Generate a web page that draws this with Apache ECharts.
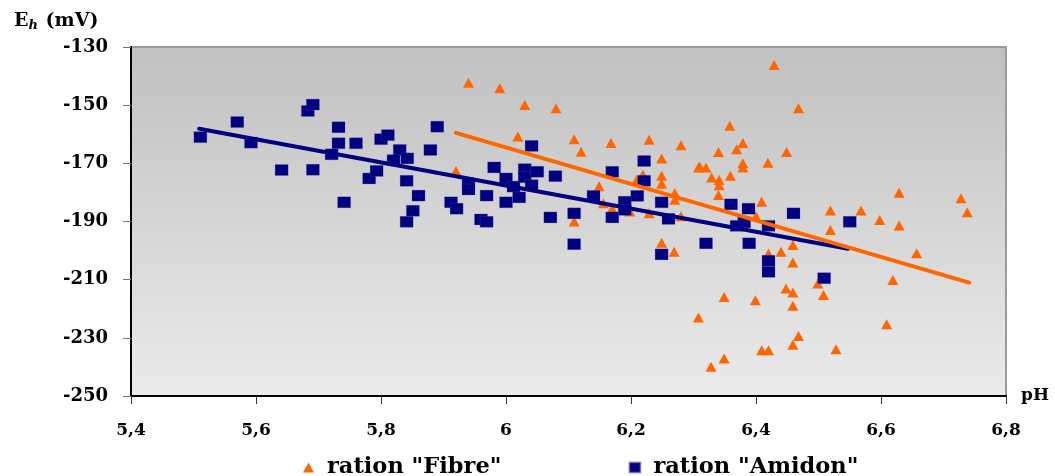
<!DOCTYPE html>
<html>
<head>
<meta charset="utf-8">
<script src="https://cdn.jsdelivr.net/npm/echarts@6/dist/echarts.min.js"></script>
<style>
  html, body { margin: 0; padding: 0; background: #fff; }
  #chart { width: 1055px; height: 476px; }
</style>
</head>
<body>
<div id="chart"></div>
<script>
// pH / Eh readings, ration "Fibre" (triangles)
const fibrePoints = [
  [5.940, -142.3], [5.990, -144.2], [6.030, -149.9], [6.080, -151.1], [6.019, -160.8],
  [6.109, -161.7], [6.120, -166.0], [5.920, -172.6], [6.109, -190.0], [6.168, -163.0],
  [6.229, -161.9], [6.280, -163.8], [6.249, -168.3], [6.310, -171.2], [6.219, -173.9],
  [6.249, -174.3], [6.249, -177.0], [6.209, -175.7], [6.149, -177.9], [6.270, -180.2],
  [6.270, -182.5], [6.156, -183.7], [6.170, -185.5], [6.198, -186.6], [6.229, -187.2],
  [6.280, -188.2], [6.249, -197.3], [6.269, -200.4], [6.429, -136.2], [6.468, -151.1],
  [6.358, -157.1], [6.379, -163.0], [6.340, -166.1], [6.369, -165.2], [6.449, -166.1],
  [6.308, -171.4], [6.320, -171.4], [6.379, -170.0], [6.379, -171.4], [6.419, -169.8],
  [6.329, -174.9], [6.341, -175.7], [6.341, -177.5], [6.359, -174.3], [6.340, -180.9],
  [6.409, -183.2], [6.400, -188.2], [6.519, -186.2], [6.568, -186.2], [6.598, -189.5],
  [6.629, -180.1], [6.629, -191.4], [6.519, -192.9], [6.459, -198.1], [6.440, -200.4],
  [6.420, -201.0], [6.459, -204.1], [6.657, -200.9], [6.728, -182.0], [6.738, -186.8],
  [6.619, -210.1], [6.499, -211.3], [6.448, -213.0], [6.459, -214.4], [6.508, -215.3],
  [6.349, -216.0], [6.399, -217.1], [6.459, -219.0], [6.308, -223.0], [6.609, -225.3],
  [6.468, -229.4], [6.459, -232.4], [6.409, -234.3], [6.420, -234.3], [6.528, -233.9],
  [6.349, -237.1], [6.328, -239.9]
]

// pH / Eh readings, ration "Amidon" (squares)
const amidonPoints = [
  [5.511, -161.0], [5.570, -155.8], [5.592, -162.9], [5.641, -172.3], [5.683, -152.0],
  [5.691, -149.8], [5.691, -172.2], [5.721, -166.9], [5.732, -157.6], [5.732, -163.1],
  [5.741, -183.4], [5.760, -163.1], [5.781, -175.2], [5.793, -172.6], [5.800, -161.7],
  [5.811, -160.3], [5.830, -165.4], [5.820, -168.9], [5.842, -168.3], [5.841, -176.0],
  [5.860, -181.1], [5.851, -186.3], [5.841, -190.1], [5.890, -157.4], [5.879, -165.4],
  [5.912, -183.4], [5.921, -185.6], [5.940, -176.9], [5.940, -179.0], [5.960, -189.3],
  [5.969, -190.1], [5.969, -181.1], [5.981, -171.4], [6.000, -175.2], [6.000, -183.4],
  [6.012, -178.0], [6.021, -181.7], [6.030, -172.0], [6.030, -174.8], [6.041, -164.0],
  [6.050, -172.9], [6.041, -177.5], [6.079, -174.4], [6.071, -188.6], [6.109, -187.2],
  [6.109, -197.8], [6.140, -181.2], [6.170, -172.9], [6.221, -169.2], [6.221, -176.0],
  [6.210, -181.2], [6.190, -183.2], [6.190, -186.0], [6.170, -188.6], [6.249, -183.4],
  [6.260, -189.1], [6.249, -201.3], [6.360, -184.1], [6.388, -185.6], [6.460, -187.2],
  [6.550, -190.1], [6.381, -190.3], [6.369, -191.5], [6.420, -191.5], [6.320, -197.5],
  [6.389, -197.5], [6.420, -203.5], [6.420, -207.3], [6.509, -209.5]
]

// trend lines, end points
const fibreTrend = [[5.920, -159.5], [6.741, -211.0]]
const amidonTrend = [[5.509, -158.1], [6.547, -199.4]]

const seriesNames = ['ration "Fibre"', 'ration "Amidon"']
const xTicks = [5.4, 5.6, 5.8, 6.0, 6.2, 6.4, 6.6, 6.8]
const xTickLabels = ['5,4', '5,6', '5,8', '6', '6,2', '6,4', '6,6', '6,8']
const yTicks = [-250, -230, -210, -190, -170, -150, -130]

const orange = '#ff6600'
const navy = '#000080'
const font = 'DejaVu Serif'

const chart = echarts.init(document.getElementById('chart'))

const option = {
  animation: false,
  title: {
    text: '{a|E}{b|h}{a| (mV)}',
    left: 9,
    top: 6,
    textStyle: {
      rich: {
        a: { fontFamily: font, fontWeight: 'bold', fontSize: 19, color: '#000' },
        b: { fontFamily: font, fontWeight: 'bold', fontStyle: 'italic', fontSize: 13, color: '#000', padding: [8, 1, 0, 0] }
      }
    }
  },
  legend: {
    data: [
      { name: seriesNames[0], icon: 'triangle' },
      { name: seriesNames[1], icon: 'rect' }
    ],
    left: 298,
    top: 451,
    itemWidth: 11,
    itemHeight: 10,
    itemGap: 127,
    textStyle: { fontFamily: font, fontWeight: 'bold', fontSize: 22.5, color: '#000', padding: [0, 0, 0, 8] }
  },
  grid: {
    left: 131,
    right: 49,
    top: 47,
    bottom: 80,
    show: true,
    borderColor: '#9a9a9a',
    borderWidth: 2,
    backgroundColor: new echarts.graphic.LinearGradient(0, 0, 0, 1, [
      { offset: 0, color: '#c0c0c0' },
      { offset: 1, color: '#ebebeb' }
    ])
  },
  xAxis: {
    type: 'value',
    min: 5.4,
    max: 6.8,
    name: 'pH',
    nameLocation: 'end',
    nameGap: 15,
    nameTextStyle: { fontFamily: font, fontWeight: 'bold', fontSize: 17, color: '#000', verticalAlign: 'bottom', padding: [0, 0, -8, 0] },
    axisLine: { onZero: false, lineStyle: { color: '#000', width: 2 } },
    axisTick: { customValues: xTicks, length: 8, lineStyle: { color: '#333', width: 1 } },
    axisLabel: {
      customValues: xTicks,
      margin: 26,
      fontFamily: font,
      fontWeight: 'bold',
      fontSize: 17,
      color: '#000',
      formatter: v => {
        const i = xTicks.findIndex(t => Math.abs(t - v) < 1e-6)
        return i >= 0 ? xTickLabels[i] : ''
      }
    },
    splitLine: { show: false }
  },
  yAxis: {
    type: 'value',
    min: -250,
    max: -130,
    axisLine: { show: true, onZero: false, lineStyle: { color: '#000', width: 2 } },
    axisTick: { show: true, customValues: yTicks, length: 8, lineStyle: { color: '#777', width: 1 } },
    axisLabel: {
      customValues: yTicks,
      margin: 23,
      fontFamily: font,
      fontWeight: 'bold',
      fontSize: 18,
      color: '#000'
    },
    splitLine: { show: false }
  },
  series: [
    {
      name: seriesNames[0],
      type: 'scatter',
      symbol: 'triangle',
      symbolSize: [11, 10],
      itemStyle: { color: orange, opacity: 1 },
      data: fibrePoints,
      z: 2
    },
    {
      name: seriesNames[1],
      type: 'scatter',
      symbol: 'rect',
      symbolSize: [13, 11],
      itemStyle: { color: navy, opacity: 1, borderColor: 'rgba(90,90,170,0.5)', borderWidth: 0.5 },
      data: amidonPoints,
      z: 3
    },
    {
      name: 'tendance Amidon',
      type: 'line',
      symbol: 'none',
      silent: true,
      lineStyle: { color: navy, width: 4, cap: 'round' },
      data: amidonTrend,
      z: 4
    },
    {
      name: 'tendance Fibre',
      type: 'line',
      symbol: 'none',
      silent: true,
      lineStyle: { color: orange, width: 4, cap: 'round' },
      data: fibreTrend,
      z: 5
    }
  ]
}

chart.setOption(option)
</script>
</body>
</html>
